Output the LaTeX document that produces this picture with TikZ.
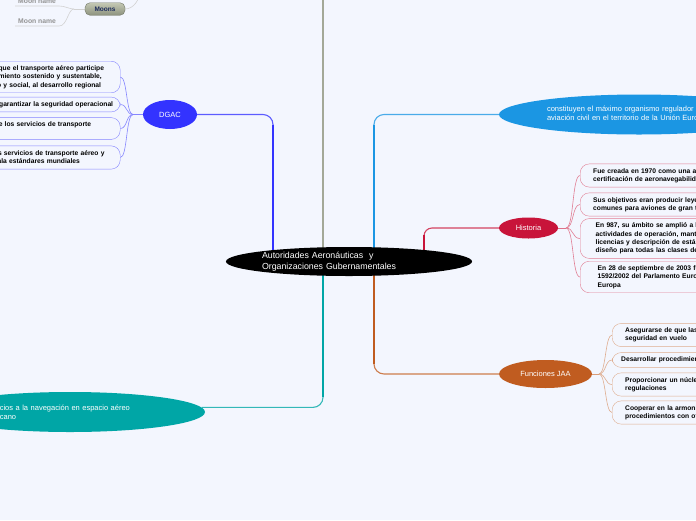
\documentclass[tikz,border=0pt]{standalone}
\usepackage{fontspec}
\setmainfont{Liberation Sans}
\usepackage{xcolor}
\definecolor{canvas}{HTML}{F3F6FE}
\definecolor{dgacblue}{HTML}{3333FF}
\definecolor{stemgray}{HTML}{A3A898}
\definecolor{easablue}{HTML}{1B96E3}
\definecolor{histred}{HTML}{C8143A}
\definecolor{jaaorange}{HTML}{C05C20}
\definecolor{seneam}{HTML}{00A6A6}
\definecolor{moonink}{HTML}{1C2B5C}
\definecolor{moontop}{HTML}{C4C8B4}
\definecolor{moonbot}{HTML}{8C927E}
\usepackage{tikz}
\usetikzlibrary{positioning, calc, backgrounds, shapes.geometric}

\begin{document}
\begin{tikzpicture}[x=1pt, y=-1pt,
  topic/.style={ellipse, fill=#1, text=white, inner sep=0pt,
    font=\fontsize{7.5}{9}\selectfont},
  leaf/.style={draw=#1, fill=canvas, rounded corners=9pt, align=left,
    inner xsep=13pt, inner ysep=4.3pt, text width=260pt,
    font=\fontsize{6.7}{8.3}\selectfont\bfseries},
  stem/.style={draw=#1!80, line width=1.1pt, rounded corners=10pt},
  trunk/.style={draw=#1, line width=2pt},
  twig/.style={draw=#1, line width=0.6pt},
  moonleaf/.style={text=gray!85, inner xsep=3pt, inner ysep=2pt,
    font=\fontsize{6.8}{8}\selectfont\bfseries},
]
  \useasboundingbox (0,0) rectangle (696,520);
  \clip (0,0) rectangle (696,520);

  % centre
  \node[ellipse, fill=black, text=white, inner sep=0pt, minimum width=246pt,
    minimum height=29pt, text width=174pt, align=left,
    font=\fontsize{8.8}{11}\selectfont] (root) at (349,261.5)
    {Autoridades Aeronáuticas\ \ y\\Organizaciones Gubernamentales};

  % topics
  \node[topic=dgacblue, minimum width=54pt, minimum height=29pt] (dgac) at (170,114.5) {DGAC};
  \node[topic=easablue, minimum width=280pt, minimum height=40pt, text width=184pt,
    align=left] (ue) at (639,114.5)
    {constituyen el máximo organismo regulador de la\\aviación civil en el territorio de la Unión Europea};
  \node[topic=histred, minimum width=59pt, minimum height=21pt] (hist) at (528.5,228) {Historia};
  \node[topic=jaaorange, minimum width=93pt, minimum height=28pt] (jaa) at (545.5,374) {Funciones JAA};
  \node[topic=seneam, minimum width=270pt, minimum height=40pt, text width=172pt,
    align=left] (sen) at (70,412)
    {servicios a la navegación en espacio aéreo\\mexicano};

  % DGAC leaves
  \node[leaf=dgacblue!60, anchor=west, inner xsep=4pt, text width=141pt] (d1) at (-29,77)
    {Lograr que el transporte aéreo participe\\al crecimiento sostenido y sustentable,\\humano y social, al desarrollo regional};
  \node[leaf=dgacblue!60, anchor=west, inner xsep=4pt, text width=157.6pt] (d2) at (-45.6,104.5)
    {Contribuir a garantizar la seguridad operacional};
  \node[leaf=dgacblue!60, anchor=west, inner xsep=4pt, text width=181.1pt] (d3) at (-69.1,128.5)
    {Mejorar la calidad de los servicios de transporte\\aéreo};
  \node[leaf=dgacblue!60, anchor=west, inner xsep=4pt, text width=171.8pt] (d4) at (-59.8,157.5)
    {Promover que los servicios de transporte aéreo y\\de calidad, e iguala estándares mundiales};

  % Historia leaves
  \node[leaf=histred!55, anchor=west] (h1) at (580,175.5)
    {Fue creada en 1970 como una autoridad de\\certificación de aeronavegabilidad};
  \node[leaf=histred!55, anchor=west] (h2) at (580,204.5)
    {Sus objetivos eran producir leyes de certificación\\comunes para aviones de gran tamaño y motores};
  \node[leaf=histred!55, anchor=west, inner xsep=15.5pt] (h3) at (580,238.5)
    {En 987, su ámbito se amplió a las\\actividades de operación, mantenimiento,\\licencias y descripción de estándares de\\diseño para todas las clases de aeronaves};
  \node[leaf=histred!55, anchor=west, inner xsep=17.5pt] (h4) at (580,277)
    {En 28 de septiembre de 2003 fue sustituida por\\1592/2002 del Parlamento Europeo y del Consejo de\\Europa};

  % Funciones leaves
  \node[leaf=jaaorange!50, anchor=west] (f1) at (612,335)
    {Asegurarse de que las aeronaves cumplan con la\\seguridad en vuelo};
  \node[leaf=jaaorange!50, anchor=west, inner xsep=9pt] (f2) at (612,360)
    {Desarrollar procedimientos comunes};
  \node[leaf=jaaorange!50, anchor=west] (f3) at (612,384.5)
    {Proporcionar un núcleo común de\\regulaciones};
  \node[leaf=jaaorange!50, anchor=west] (f4) at (612,412.5)
    {Cooperar en la armonización de\\procedimientos con otras autoridades};

  % Moons
  \node[rounded corners=5pt, top color=moontop, bottom color=moonbot,
    draw=moonbot!80!black, minimum width=40pt, minimum height=12.5pt, inner sep=0pt,
    text=moonink, font=\fontsize{6.5}{8}\selectfont\bfseries] (moons) at (105,9) {Moons};
  \node[moonleaf, anchor=south west] (moon1) at (15,6) {Moon name};
  \node[moonleaf, anchor=south west] (moon2) at (15,26) {Moon name};

  \coordinate (gtop) at (323,-5);
  \coordinate (mtop) at (140,-10);
  \coordinate (mhub) at (74,9);
  \coordinate (dhub) at (133,114.5);
  \coordinate (hhub) at (566,228);
  \coordinate (jhub) at (599,374);

  \begin{scope}[on background layer]
    \fill[canvas] (0,0) rectangle (696,520);
    % branches from the centre
    \draw[stem=dgacblue] (dgac.east) -| ($(root.center)+(-76,0)$);
    \draw[trunk=dgacblue] ($(root.center)+(-76,0)$) -- ($(dgac.east -| root.center)+(-76,10)$);
    \draw[trunk=stemgray, line width=2.4pt] (gtop) -- (gtop |- root.center);
    \draw[stem=easablue] (ue.west) -| ($(root.center)+(25,0)$);
    \draw[trunk=easablue] ($(root.center)+(25,0)$) -- ($(ue.west -| root.center)+(25,10)$);
    \draw[stem=histred, rounded corners=8pt] (hist.west) -| ($(root.center)+(75,0)$);
    \draw[trunk=histred] ($(root.center)+(75,0)$) -- ($(hist.west -| root.center)+(75,7)$);
    \draw[stem=jaaorange] (jaa.west) -| ($(root.center)+(25,0)$);
    \draw[trunk=jaaorange] ($(root.center)+(25,0)$) -- ($(jaa.west -| root.center)+(25,-10)$);
    \draw[stem=seneam] (sen.2) -| ($(root.center)+(-26,0)$);
    \draw[trunk=seneam] ($(root.center)+(-26,0)$) -- ($(sen.2 -| root.center)+(-26,-10)$);

    % leaves
    \draw[twig=dgacblue!60] (dgac.west) -- (dhub);
    \foreach \n in {d1,d2,d3,d4}
      \draw[twig=dgacblue!60] (dhub) .. controls +(-7,0) and +(7,0) .. (\n.east);
    \draw[twig=histred!60] (hist.east) -- (hhub);
    \foreach \n in {h1,h2,h3,h4}
      \draw[twig=histred!55] (hhub) .. controls +(8,0) and +(-8,0) .. (\n.west);
    \draw[twig=jaaorange!60] (jaa.east) -- (jhub);
    \foreach \n in {f1,f2,f3,f4}
      \draw[twig=jaaorange!50] (jhub) .. controls +(7,0) and +(-7,0) .. (\n.west);

    % moons
    \draw[twig=gray!35] (moon1.south west) -- (moon1.south east)
      .. controls +(6,0) and +(-5,0) .. (mhub);
    \draw[twig=gray!35] (moon2.south west) -- (moon2.south east)
      .. controls +(8,0) and +(-6,0) .. (mhub);
    \draw[twig=gray!35] (mhub) -- (moons.west);
    \draw[twig=gray!35] (moons.east) .. controls +(8,0) and +(0,10) .. (mtop);
  \end{scope}
\end{tikzpicture}
\end{document}
